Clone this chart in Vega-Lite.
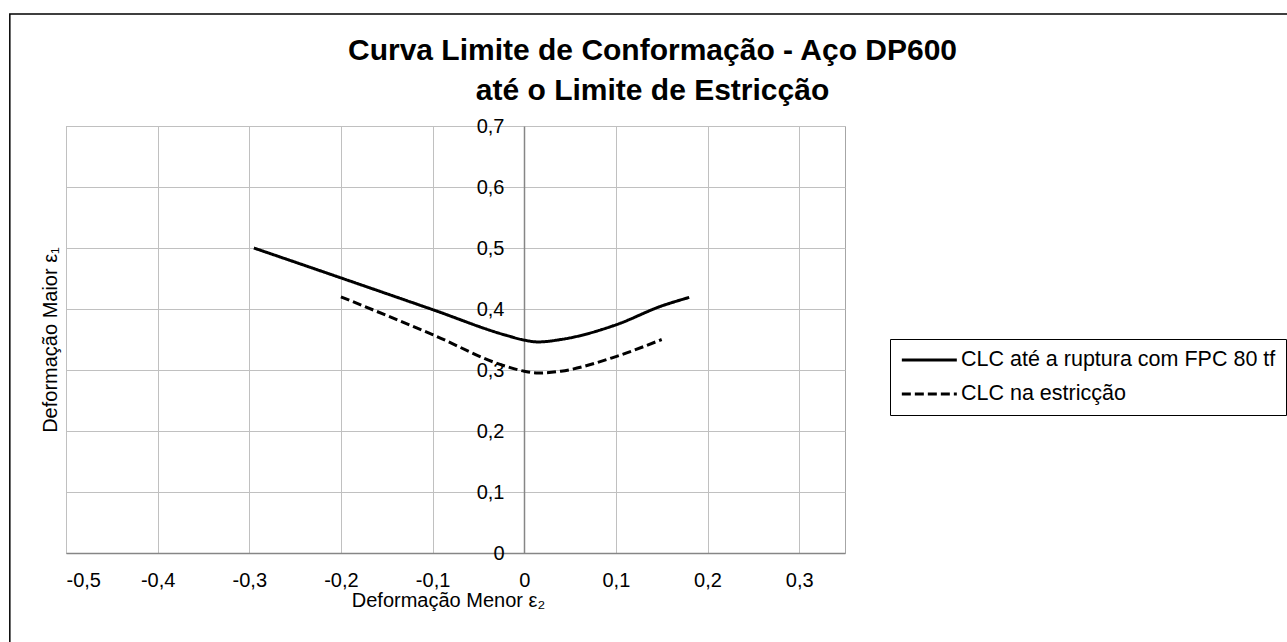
{
  "$schema": "https://vega.github.io/schema/vega-lite/v6.json",
  "width": 779,
  "height": 427,
  "autosize": {"type": "none"},
  "padding": {"left": 66, "top": 126, "right": 442, "bottom": 89},
  "background": "white",
  "title": {
    "text": ["Curva Limite de Conformação - Aço DP600", "até o Limite de Estricção"],
    "font": "Liberation Sans",
    "fontSize": 30,
    "fontWeight": "bold",
    "color": "black",
    "anchor": "middle",
    "frame": "group",
    "dx": 197,
    "offset": -123,
    "baseline": "bottom",
    "lineHeight": 40
  },
  "data": {
    "values": [
      {"serie": "CLC até a ruptura com FPC 80 tf", "e2": -0.295, "e1": 0.5},
      {"serie": "CLC até a ruptura com FPC 80 tf", "e2": -0.2, "e1": 0.451},
      {"serie": "CLC até a ruptura com FPC 80 tf", "e2": -0.1, "e1": 0.399},
      {"serie": "CLC até a ruptura com FPC 80 tf", "e2": -0.02, "e1": 0.357},
      {"serie": "CLC até a ruptura com FPC 80 tf", "e2": 0.0, "e1": 0.349},
      {"serie": "CLC até a ruptura com FPC 80 tf", "e2": 0.015, "e1": 0.346},
      {"serie": "CLC até a ruptura com FPC 80 tf", "e2": 0.04, "e1": 0.35},
      {"serie": "CLC até a ruptura com FPC 80 tf", "e2": 0.1, "e1": 0.374},
      {"serie": "CLC até a ruptura com FPC 80 tf", "e2": 0.15, "e1": 0.405},
      {"serie": "CLC até a ruptura com FPC 80 tf", "e2": 0.18, "e1": 0.419},
      {"serie": "CLC na estricção", "e2": -0.2, "e1": 0.42},
      {"serie": "CLC na estricção", "e2": -0.1, "e1": 0.358},
      {"serie": "CLC na estricção", "e2": -0.02, "e1": 0.306},
      {"serie": "CLC na estricção", "e2": 0.0, "e1": 0.298},
      {"serie": "CLC na estricção", "e2": 0.015, "e1": 0.295},
      {"serie": "CLC na estricção", "e2": 0.04, "e1": 0.298},
      {"serie": "CLC na estricção", "e2": 0.1, "e1": 0.322},
      {"serie": "CLC na estricção", "e2": 0.15, "e1": 0.35}
    ]
  },
  "layer": [
    {
      "data": {"values": [{}]},
      "mark": {"type": "rect", "fillOpacity": 0, "stroke": "black", "strokeWidth": 1.5, "clip": false},
      "encoding": {
        "x": {"datum": -0.5613, "type": "quantitative"},
        "x2": {"datum": 0.85},
        "y": {"datum": 0.8836, "type": "quantitative"},
        "y2": {"datum": -0.16}
      }
    },
    {
      "mark": {"type": "line", "interpolate": "monotone", "strokeWidth": 3},
      "encoding": {
        "x": {
          "field": "e2",
          "type": "quantitative",
          "scale": {"domain": [-0.5, 0.35], "nice": false, "zero": false},
          "axis": {
            "title": "Deformação Menor ε₂",
            "values": [-0.5, -0.4, -0.3, -0.2, -0.1, 0, 0.1, 0.2, 0.3],
            "format": ".1~f",
            "labelPadding": 17,
            "titlePadding": 0,
            "titleX": 382
          }
        },
        "y": {
          "field": "e1",
          "type": "quantitative",
          "scale": {"domain": [0, 0.7], "nice": false},
          "axis": {
            "title": "Deformação Maior ε₁",
            "values": [0, 0.1, 0.2, 0.3, 0.4, 0.5, 0.6, 0.7],
            "format": ".1~f",
            "offset": -458,
            "labelPadding": 20,
            "titleX": -474,
            "titleY": 213.5,
            "titleBaseline": "middle",
            "titleAngle": -90
          }
        },
        "color": {
          "field": "serie",
          "type": "nominal",
          "scale": {"domain": ["CLC até a ruptura com FPC 80 tf", "CLC na estricção"], "range": ["black", "black"]},
          "legend": {
            "title": null,
            "orient": "none",
            "legendX": 824,
            "legendY": 213,
            "strokeColor": "black",
            "padding": 10,
            "labelFont": "Liberation Sans",
            "labelFontSize": 21.5,
            "labelColor": "black",
            "labelLimit": 500,
            "labelOffset": 39,
            "symbolType": "M-1,0H5",
            "symbolSize": 336,
            "symbolStrokeWidth": 3,
            "rowPadding": 12
          }
        },
        "strokeDash": {
          "field": "serie",
          "type": "nominal",
          "scale": {"domain": ["CLC até a ruptura com FPC 80 tf", "CLC na estricção"], "range": [[1, 0], [9, 4]]},
          "legend": {
            "title": null,
            "orient": "none",
            "legendX": 824,
            "legendY": 213,
            "strokeColor": "black",
            "padding": 10,
            "labelFont": "Liberation Sans",
            "labelFontSize": 21.5,
            "labelColor": "black",
            "labelLimit": 500,
            "labelOffset": 39,
            "symbolType": "M-1,0H5",
            "symbolSize": 336,
            "symbolStrokeWidth": 3,
            "rowPadding": 12
          }
        }
      }
    }
  ],
  "config": {
    "locale": {"number": {"decimal": ",", "thousands": ".", "grouping": [3], "currency": ["", ""], "minus": "-"}},
    "view": {"stroke": "#a6a6a6", "strokeWidth": 1},
    "axis": {
      "labelFont": "Liberation Sans",
      "labelFontSize": 20,
      "labelColor": "black",
      "titleFont": "Liberation Sans",
      "titleFontSize": 20,
      "titleFontWeight": "normal",
      "titleColor": "black",
      "ticks": false,
      "grid": true,
      "gridColor": "#c0c0c0",
      "gridWidth": 1,
      "domainColor": "#868686",
      "domainWidth": 1.5
    }
  }
}
